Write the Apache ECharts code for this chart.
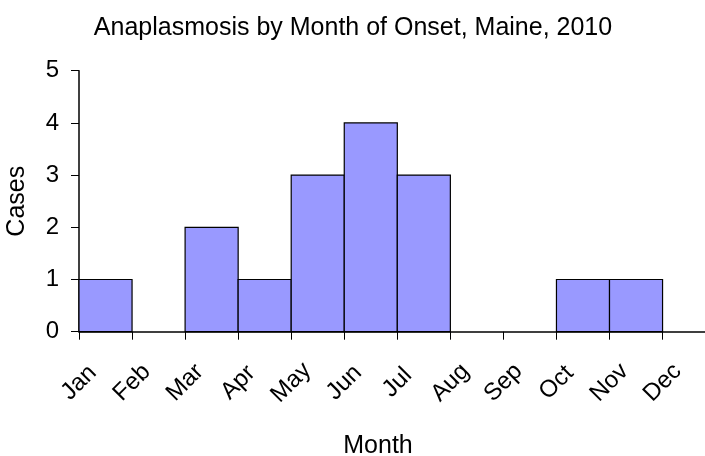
<!DOCTYPE html>
<html>
<head>
<meta charset="utf-8">
<script src="https://cdn.jsdelivr.net/npm/echarts@6/dist/echarts.min.js"></script>
<style>
  html, body { margin: 0; padding: 0; background: #fff; }
  #chart { width: 705px; height: 456px; }
</style>
</head>
<body>
<div id="chart"></div>
<script>
  // onset month (bin start index) and case counts
  const months = ['Jan', 'Feb', 'Mar', 'Apr', 'May', 'Jun', 'Jul', 'Aug', 'Sep', 'Oct', 'Nov', 'Dec']
  const cases = [1, 0, 2, 1, 3, 4, 3, 0, 0, 1, 1, 0]
  const yTicks = [0, 1, 2, 3, 4, 5]

  const font = 'Liberation Sans, Arial, sans-serif'
  const tickIdx = months.map((m, i) => i)
  const bins = cases.map((v, i) => [i, i + 1, v]).filter(d => d[2] > 0)

  const chart = echarts.init(document.getElementById('chart'))
  chart.setOption({
    animation: false,
    title: {
      text: 'Anaplasmosis by Month of Onset, Maine, 2010',
      left: 348,
      top: 11,
      textAlign: 'center',
      textStyle: { fontFamily: font, fontSize: 25, fontWeight: 'normal', color: '#000' }
    },
    grid: { left: 79, right: 0, top: 70.7, bottom: 124.3, outerBoundsMode: 'none' },
    xAxis: {
      type: 'value',
      min: 0,
      max: 11.8,
      interval: 1,
      splitLine: { show: false },
      axisLine: { lineStyle: { color: '#000', width: 1.5 } },
      axisTick: { customValues: tickIdx, length: 8, lineStyle: { color: '#000' } },
      axisLabel: {
        customValues: tickIdx,
        formatter: v => months[v] || '',
        rotate: 45,
        align: 'center',
        verticalAlign: 'middle',
        margin: 51,
        fontFamily: font,
        fontSize: 24,
        color: '#000'
      },
      name: 'Month',
      nameLocation: 'middle',
      nameGap: 102,
      nameTextStyle: { fontFamily: font, fontSize: 25, color: '#000', padding: [0, 28, 0, 0] }
    },
    yAxis: {
      type: 'value',
      min: yTicks[0],
      max: yTicks[yTicks.length - 1],
      interval: 1,
      splitLine: { show: false },
      axisLine: { show: true, lineStyle: { color: '#000', width: 1.5 } },
      axisTick: { show: true, length: 8, lineStyle: { color: '#000' } },
      axisLabel: { margin: 20, fontFamily: font, fontSize: 24, color: '#000' },
      name: 'Cases',
      nameLocation: 'middle',
      nameGap: 49,
      nameTextStyle: { fontFamily: font, fontSize: 25, color: '#000' }
    },
    series: [{
      type: 'custom',
      data: bins,
      encode: { x: [0, 1], y: 2 },
      renderItem: (params, api) => {
        const p0 = api.coord([api.value(0), 0])
        const p1 = api.coord([api.value(1), api.value(2)])
        return {
          type: 'rect',
          shape: { x: p0[0], y: p1[1], width: p1[0] - p0[0], height: p0[1] - p1[1] },
          style: { fill: '#9999FF', stroke: '#000', lineWidth: 1.2 }
        }
      }
    }]
  })
</script>
</body>
</html>
